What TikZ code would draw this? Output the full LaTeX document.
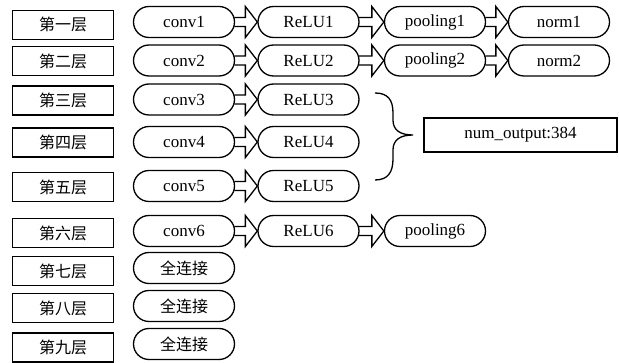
\documentclass[tikz,border=0pt]{standalone}
\usepackage{fontspec}
\setmainfont{Liberation Serif}
\newfontfamily\cjk{Noto Sans CJK SC}
\usetikzlibrary{shapes.misc,calc}

% hollow block arrow from one node to the next
\newcommand\blockarrow[2]{%
  \draw[blockline] ($(#1.east)+(-0.7,-4.5)$) -- ($(#2.west)+(-12,-4.5)$) -- ($(#2.west)+(-12,-15.5)$)
    -- (#2.west) -- ($(#2.west)+(-12,15.5)$) -- ($(#2.west)+(-12,4.5)$) -- ($(#1.east)+(-0.7,4.5)$);}

\begin{document}
\begin{tikzpicture}[x=1pt,y=-1pt,line width=1.3pt,
  layer/.style={draw,minimum width=100.5pt,minimum height=29pt,inner sep=0pt,font=\cjk\fontsize{16}{16}\selectfont},
  op/.style={draw,rounded rectangle,minimum width=101pt,minimum height=31pt,inner sep=0pt,font=\fontsize{17}{17}\selectfont},
  fc/.style={op,font=\cjk\fontsize{16}{16}\selectfont},
  outbox/.style={draw,minimum width=193pt,minimum height=34pt,inner sep=0pt,font=\fontsize{17}{17}\selectfont},
  blockline/.style={line width=1.3pt,line join=miter}]
\useasboundingbox (0,0) rectangle (619,363);

\foreach \n/\lab/\y in {1/一/24.7,2/二/61.3,3/三/100.5,4/四/142.5,5/五/187,6/六/233,7/七/271,8/八/308,9/九/347.5}
  \node[layer] (layer\n) at (63,\y) {第\lab 层};

\foreach \n/\y in {1/22,2/60.5,3/99.5,4/142,5/186,6/231}{
  \node[op] (conv\n) at (184,\y) {conv\n};
  \node[op] (relu\n) at (308.5,\y) {ReLU\n};
  \blockarrow{conv\n}{relu\n}
}

\node[op] (pool1) at (435,22) {pooling1};
\blockarrow{relu1}{pool1}
\node[op] (norm1) at (559,22) {norm1};
\blockarrow{pool1}{norm1}
\node[op] (pool2) at (435,60.5) {pooling2};
\blockarrow{relu2}{pool2}
\node[op] (norm2) at (559,60.5) {norm2};
\blockarrow{pool2}{norm2}
\node[op] (pool6) at (435,231) {pooling6};
\blockarrow{relu6}{pool6}

\node[fc] (fc7) at (184,268) {全连接};
\node[fc] (fc8) at (184,306) {全连接};
\node[fc] (fc9) at (184,344) {全连接};

\node[outbox] (nout) at (520.5,135) {num\_output:384};

% brace over ReLU3--ReLU5
\draw (375,93) .. controls (388,93) and (393,100) .. (393,113) -- (393,120)
  .. controls (393,130) and (400,135) .. (413,135)
  .. controls (400,135) and (393,140) .. (393,150) -- (393,159)
  .. controls (393,172) and (388,180) .. (375,180);
\end{tikzpicture}
\end{document}
